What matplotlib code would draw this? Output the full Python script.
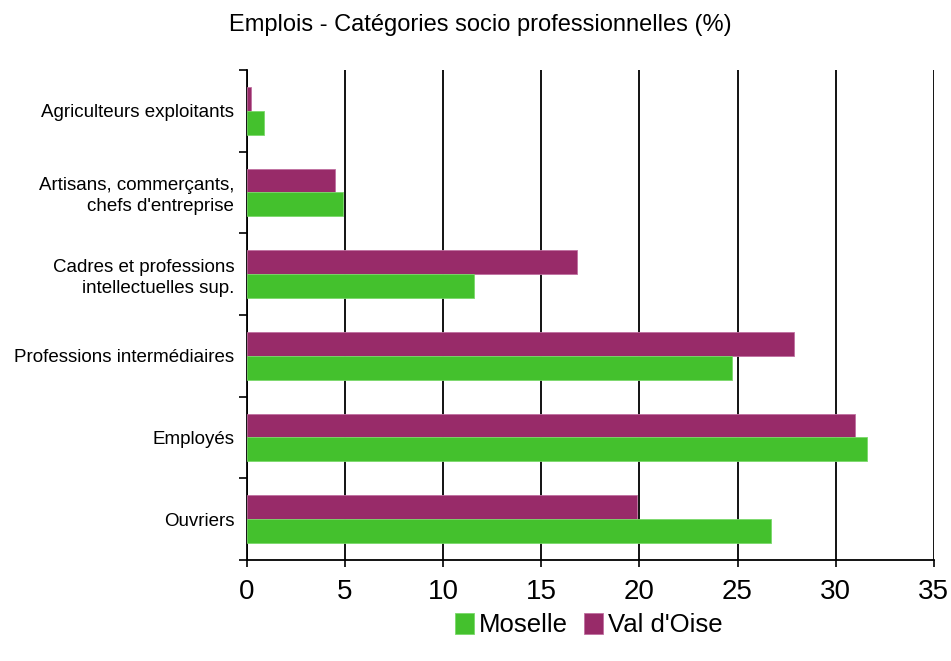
import numpy as np
import matplotlib.pyplot as plt

categories = ["Agriculteurs exploitants",
              "Artisans, commerçants,\nchefs d'entreprise",
              "Cadres et professions\nintellectuelles sup.",
              "Professions intermédiaires",
              "Employés",
              "Ouvriers"]
moselle = [0.9, 4.9, 11.6, 24.7, 31.6, 26.7]
val_doise = [0.2, 4.5, 16.8, 27.9, 31.0, 19.9]
xticks = [0, 5, 10, 15, 20, 25, 30, 35]

green = '#44c12d'
purple = '#982b69'

plt.rcParams['font.family'] = ['Liberation Sans', 'DejaVu Sans']

fig = plt.figure(figsize=(9.51, 6.61), dpi=100)
ax = fig.add_axes([0.2594, 0.1528, 0.7226, 0.7413])

pos = np.arange(len(categories))
h = 0.29
ax.barh(pos - h/2, val_doise, height=h, color=purple, edgecolor='#c070a0',
        linewidth=0.6, label="Val d'Oise", zorder=3)
ax.barh(pos + h/2, moselle, height=h, color=green, edgecolor='#7ad86a',
        linewidth=0.6, label="Moselle", zorder=3)

ax.set_ylim(len(categories) - 0.5, -0.5)
ax.set_xlim(0, 35)
ax.set_xticks(xticks)
ax.set_xticklabels([str(t) for t in xticks], fontsize=20)
ax.set_yticks(pos)
ax.set_yticklabels(categories, fontsize=13.5, linespacing=1.3)
ax.set_yticks(np.arange(len(categories) + 1) - 0.5, minor=True)
ax.tick_params(axis='y', which='major', length=0, pad=9)
ax.tick_params(axis='y', which='minor', length=6, width=1.2, direction='out')
ax.tick_params(axis='x', length=5, width=1.2, direction='out', pad=9)

ax.grid(axis='x', color='black', linewidth=1.3, zorder=0)
for s in ['top', 'right']:
    ax.spines[s].set_visible(False)
for s in ['left', 'bottom']:
    ax.spines[s].set_linewidth(1.3)

fig.suptitle("Emplois - Catégories socio professionnelles (%)", fontsize=17, y=0.962,
             va='center', x=0.505)

handles, labels = ax.get_legend_handles_labels()
fig.legend(handles[::-1], labels[::-1], loc='center', bbox_to_anchor=(0.619, 0.054),
           ncol=2, frameon=False, fontsize=18.5, handlelength=0.75, handleheight=0.85,
           handletextpad=0.2, columnspacing=0.6)

fig.savefig('out.png', dpi=100)
